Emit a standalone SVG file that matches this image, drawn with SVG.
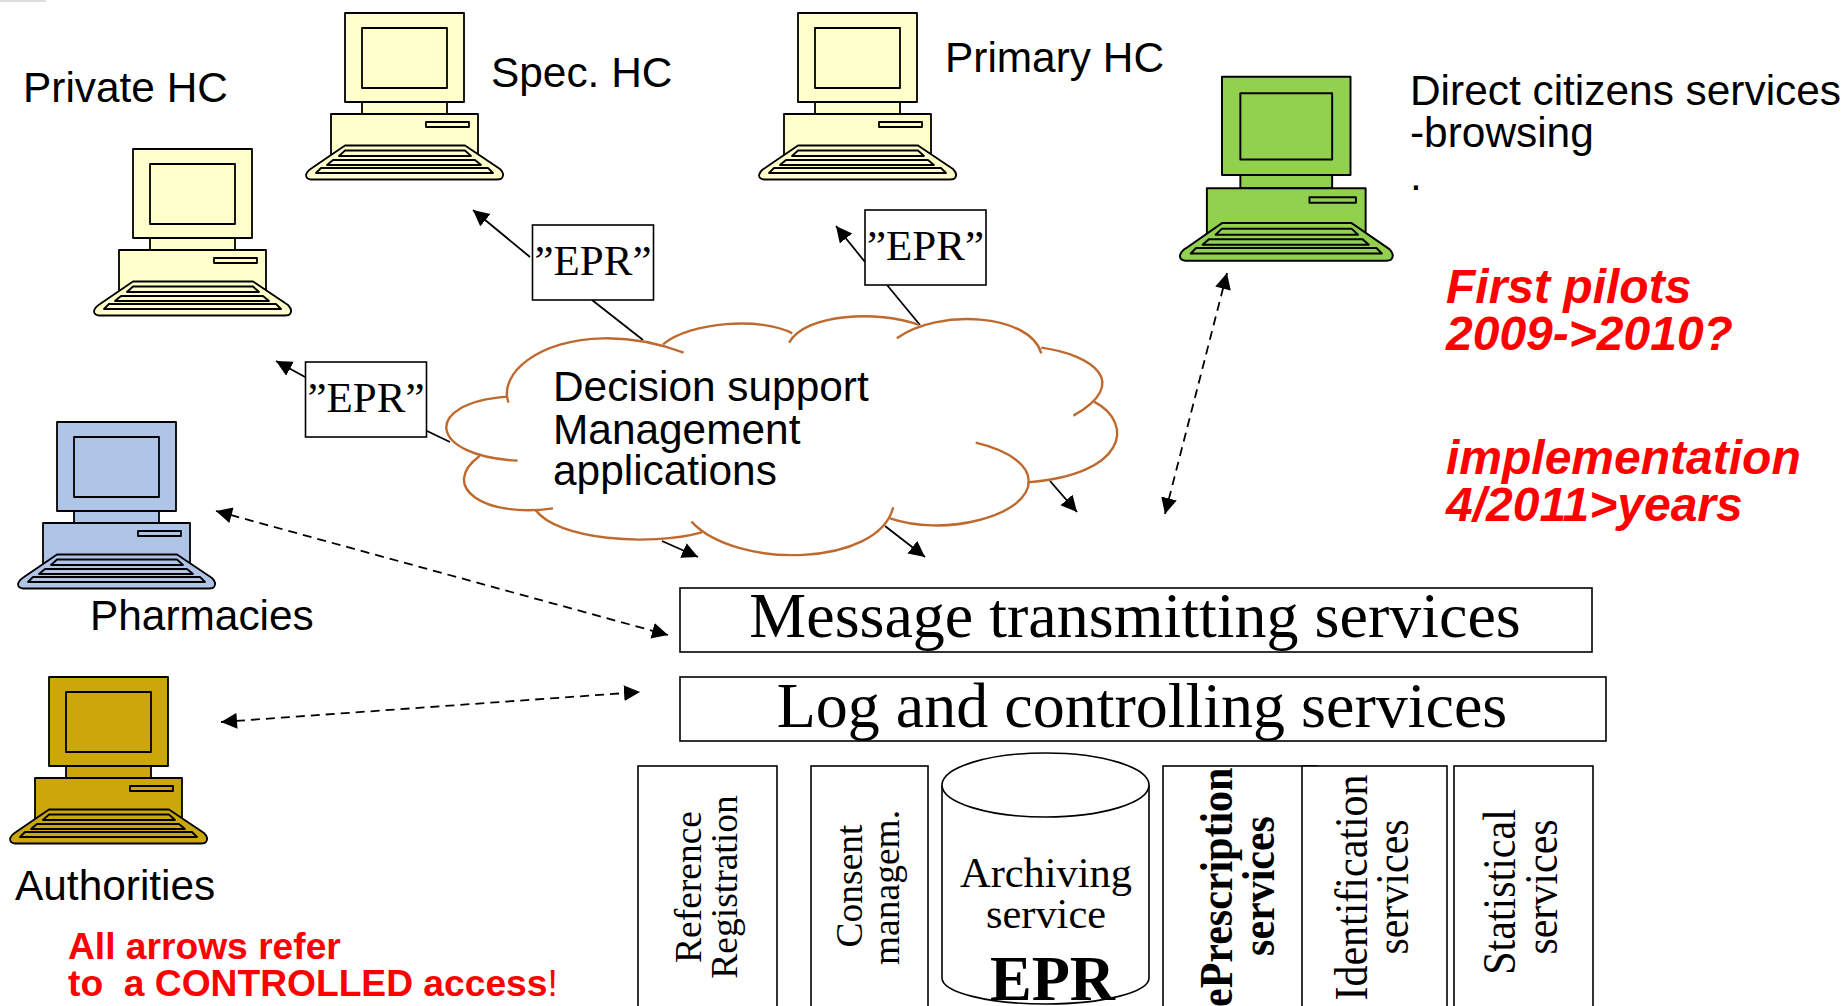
<svg xmlns="http://www.w3.org/2000/svg" width="1848" height="1006" viewBox="0 0 1848 1006">
<style>
.s{font-family:"Liberation Sans",Arial,sans-serif;fill:#000}
.t{font-family:"Liberation Serif","Times New Roman",serif;fill:#000}
.lbl{font-size:42.4px}
.red{font-family:"Liberation Sans",Arial,sans-serif;fill:#f00;font-weight:bold}
.box{fill:#fff;stroke:#000;stroke-width:1.6}
.epr{font-size:43px}
.big{font-size:64px}
.v{font-size:37.500px}
.w{font-size:42px}
.vb{font-size:42px;font-weight:bold}
.ln{fill:none;stroke:#000;stroke-width:1.8}
.ds{fill:none;stroke:#000;stroke-width:1.8;stroke-dasharray:9 6}
.pcp{stroke:#000;stroke-width:1.8;stroke-linejoin:round}
.lobe{fill:none;stroke:#BE6A2E;stroke-width:2.4;vector-effect:non-scaling-stroke;stroke-linecap:butt}
</style>
<defs>
<marker id="a" markerUnits="userSpaceOnUse" markerWidth="18" markerHeight="18" refX="16" refY="8" orient="auto"><path d="M0 0L16 8L0 16Z" fill="#000"/></marker>
<marker id="b" markerUnits="userSpaceOnUse" markerWidth="18" markerHeight="18" refX="0" refY="8" orient="auto"><path d="M16 0L0 8L16 16Z" fill="#000"/></marker>
<g id="pc" class="pcp">
<rect x="0" y="0" width="119" height="89"/>
<rect x="17" y="15" width="85" height="60"/>
<rect x="17" y="89" width="85" height="12"/>
<rect x="-14" y="101" width="147" height="44"/>
<rect x="81" y="109" width="43" height="5"/>
<path d="M0 132.500H120L155 156Q160 161 157 165Q156 166.500 152 166.500H-34Q-39 166 -39 162Q-38 158 -33 155Z"/>
<path d="M0 137.500H120L126 143H-6Z"/>
<path d="M-12 147H130L136 152H-18Z"/>
<path d="M-24 155H143L148 160H-29Z"/>
</g>
</defs>
<rect x="0" y="0" width="46" height="2" fill="#ddd"/>
<g id="connectors">
<path class="ln" d="M530 257L473 210" marker-end="url(#a)"/>
<path class="ln" d="M592 300L643 340"/>
<path class="ln" d="M865 262L836 226" marker-end="url(#a)"/>
<path class="ln" d="M887 285L920 325"/>
<path class="ln" d="M305 377L276 361" marker-end="url(#a)"/>
<path class="ln" d="M427 431L450 442"/>
<path class="ln" d="M662 541L698 557" marker-end="url(#a)"/>
<path class="ln" d="M885 526L925 557" marker-end="url(#a)"/>
<path class="ln" d="M1050 481L1077 512" marker-end="url(#a)"/>
<path class="ds" d="M216 511L668 635" marker-start="url(#b)" marker-end="url(#a)"/>
<path class="ds" d="M221 722L640 692" marker-start="url(#b)" marker-end="url(#a)"/>
<path class="ds" d="M1227 273L1165 514" marker-start="url(#b)" marker-end="url(#a)"/>
</g>
<g id="private-hc"><use href="#pc" x="133" y="149" fill="#FFFFCC"/><text class="s lbl" x="23" y="102">Private HC</text></g>
<g id="spec-hc"><use href="#pc" x="345" y="13" fill="#FFFFCC"/><text class="s lbl" x="491" y="87">Spec. HC</text></g>
<g id="primary-hc"><use href="#pc" x="798" y="13" fill="#FFFFCC"/><text class="s lbl" x="945" y="72">Primary HC</text></g>
<g id="citizens"><use href="#pc" transform="translate(1222 76.700) scale(1.08 1.105)" fill="#92D050"/><text class="s lbl" x="1410" y="105">Direct citizens services</text><text class="s lbl" x="1410" y="147">-browsing</text><text class="s lbl" x="1410" y="190">.</text></g>
<g id="pharmacies"><use href="#pc" x="57" y="422" fill="#B0C4E8"/><text class="s lbl" x="90" y="630">Pharmacies</text></g>
<g id="authorities"><use href="#pc" x="49" y="677" fill="#CCA70B"/><text class="s lbl" x="15" y="900">Authorities</text></g>
<g id="epr1"><rect class="box" x="532.500" y="225" width="121" height="75"/><text class="t epr" x="593" y="275" text-anchor="middle">”EPR”</text></g>
<g id="epr2"><rect class="box" x="865" y="210" width="121" height="75"/><text class="t epr" x="925.500" y="260" text-anchor="middle">”EPR”</text></g>
<g id="epr3"><rect class="box" x="305.500" y="362" width="121" height="75"/><text class="t epr" x="366" y="412" text-anchor="middle">”EPR”</text></g>
<g id="cloud">
<g transform="translate(420 300) scale(.4585 .33333)">
<path d="M190 300C170 220 260 118 400 115L530 133C590 70 740 50 812 100C860 40 990 30 1068 92C1140 30 1320 40 1355 143C1440 160 1510 230 1470 305C1540 360 1540 510 1325 547C1320 650 1150 710 1025 655C960 800 700 810 610 697C500 740 300 720 252 630C130 640 60 560 130 468C40 440 20 320 190 290Z" fill="#fff"/>
<path class="lobe" d="M193 308C170 220 260 118 400 115C470 113 530 135 575 158"/>
<path class="lobe" d="M530 133C590 65 745 50 812 100"/>
<path class="lobe" d="M805 128C840 40 1000 30 1088 75"/>
<path class="lobe" d="M1040 115C1130 25 1330 40 1355 160"/>
<path class="lobe" d="M1355 143C1470 165 1550 250 1425 347"/>
<path class="lobe" d="M1470 305C1560 370 1540 525 1325 547"/>
<path class="lobe" d="M1212 428C1370 480 1360 610 1220 660C1150 685 1080 680 1025 655"/>
<path class="lobe" d="M1032 622C1000 800 690 810 592 665"/>
<path class="lobe" d="M615 697C500 740 300 720 252 630"/>
<path class="lobe" d="M290 625C140 655 40 560 130 468"/>
<path class="lobe" d="M213 482C20 470 0 310 190 290"/>
</g>
<text class="s lbl" x="553" y="401">Decision support</text>
<text class="s lbl" x="553" y="444">Management</text>
<text class="s lbl" x="553" y="485">applications</text>
</g>
<g id="red-notes">
<text class="red" font-style="italic" font-size="48" x="1446" y="303">First pilots</text>
<text class="red" font-style="italic" font-size="48" x="1446" y="350">2009-&gt;2010?</text>
<text class="red" font-style="italic" font-size="48" x="1446" y="474">implementation</text>
<text class="red" font-style="italic" font-size="48" x="1446" y="521">4/2011&gt;years</text>
<text class="red" font-size="37.200" x="68" y="959">All arrows refer</text>
<text class="red" font-size="37.200" x="68" y="996" xml:space="preserve">to  a CONTROLLED access<tspan font-weight="normal">!</tspan></text>
</g>
<g id="message"><rect class="box" x="680" y="588" width="912" height="64"/><text class="t big" x="1135" y="637" text-anchor="middle">Message transmitting services</text></g>
<g id="log"><rect class="box" x="680" y="677" width="926" height="64"/><text class="t big" x="1142" y="727" text-anchor="middle">Log and controlling services</text></g>
<g id="reference"><rect class="box" x="638" y="766" width="139" height="260"/><text class="t v" transform="translate(701 887) rotate(-90)" text-anchor="middle">Reference</text><text class="t v" transform="translate(737 887) rotate(-90)" text-anchor="middle">Registration</text></g>
<g id="consent"><rect class="box" x="811" y="766" width="117" height="260"/><text class="t v" transform="translate(862 886) rotate(-90)" text-anchor="middle">Consent</text><text class="t v" transform="translate(899 887.500) rotate(-90)" text-anchor="middle">managem.</text></g>
<g id="archive"><path class="box" d="M942 785.500V978A103.500 26 0 0 0 1149 978V785.500"/><ellipse class="box" cx="1045.500" cy="785" rx="103.500" ry="32"/><text class="t" font-size="42.400" x="1046" y="887" text-anchor="middle">Archiving</text><text class="t" font-size="42.400" x="1046" y="928" text-anchor="middle">service</text><text class="t" font-size="62.500" font-weight="bold" x="1052.500" y="1000" text-anchor="middle">EPR</text></g>
<g id="eprescription"><rect class="box" x="1163" y="766" width="154" height="260"/><text class="t vb" transform="translate(1232 1007) rotate(-90) scale(1 1.08)">ePrescription</text><text class="t vb" transform="translate(1274 886) rotate(-90) scale(1 1.08)" text-anchor="middle">services</text></g>
<g id="identification"><rect class="box" x="1302" y="766" width="145" height="260"/><text class="t w" transform="translate(1367 887.500) rotate(-90) scale(1 1.08)" text-anchor="middle">Identification</text><text class="t w" transform="translate(1408 887) rotate(-90) scale(1 1.08)" text-anchor="middle">services</text></g>
<g id="statistical"><rect class="box" x="1454" y="766" width="139" height="260"/><text class="t w" transform="translate(1515 892) rotate(-90) scale(1 1.08)" text-anchor="middle">Statistical</text><text class="t w" transform="translate(1557 887) rotate(-90) scale(1 1.08)" text-anchor="middle">services</text></g>
</svg>
